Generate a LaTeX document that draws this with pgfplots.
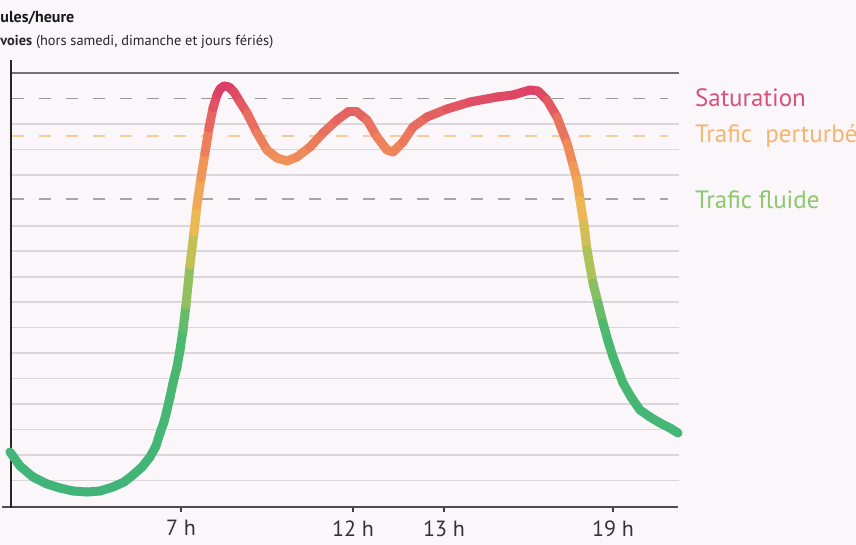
\documentclass[border=0pt]{standalone}
\usepackage{fontspec}
\setmainfont{PT Sans}
\usepackage{pgfplots}
\pgfplotsset{compat=1.18}
\usetikzlibrary{backgrounds}

\definecolor{bg}{RGB}{250,246,249}
\definecolor{satcol}{RGB}{214,82,122}
\definecolor{pertcol}{RGB}{243,182,112}
\definecolor{fluidcol}{RGB}{140,200,108}
\definecolor{gridcol}{RGB}{218,214,217}

\begin{document}
\begin{tikzpicture}
\begin{axis}[
    x=0.5pt, y=0.5pt,
    xmin=10, xmax=679, ymin=39, ymax=472,
    clip=false,
    axis line style={draw=none},
    xtick={181,353,444,613},
    xticklabels={7 h,12 h,13 h,19 h},
    xtick pos=bottom, ytick pos=left,
    tick align=outside,
    major tick length=3pt,
    xtick style={draw=black!75, line width=1pt},
    xticklabel style={font=\fontsize{11}{13}\selectfont, text=black!80, inner sep=0pt, yshift=-4pt},
    ytick={64.5,89.9,115.4,140.9,166.4,191.8,217.3,242.8,268.2,293.7,319.2,370.1,395.6,421.0},
    yticklabels={},
    ytick style={draw=none},
    ymajorgrids,
    grid style={gridcol, line width=0.8pt},
    colormap={traffic}{rgb255(0cm)=(60,178,125); rgb255(2.1cm)=(75,185,110); rgb255(2.8cm)=(175,195,90);
        rgb255(3.3cm)=(238,185,85); rgb255(3.85cm)=(240,145,88); rgb255(4.25cm)=(232,105,95); rgb255(4.6cm)=(218,58,104)},
    point meta min=0, point meta max=460,
]
% page frame in the reference's pixel frame
\coordinate (bl) at (axis cs:0,0);
\coordinate (tr) at (axis cs:856,545);

% reference levels
\draw[black!40, line width=0.9pt, dash pattern=on 6pt off 7.5pt] (axis cs:12,446.5) -- (axis cs:668,446.5);
\draw[pertcol!70, line width=0.9pt, dash pattern=on 6pt off 7.5pt] (axis cs:12,409) -- (axis cs:668,409);
\draw[black!35, line width=0.9pt, dash pattern=on 6pt off 7.5pt] (axis cs:12,346) -- (axis cs:668,346);

% frame lines
\draw[black!55, line width=1pt] (axis cs:12,472) -- (axis cs:679,472);
\draw[black!70, line width=1pt] (axis cs:2,38) -- (axis cs:678,38);
\draw[black!85, line width=1.25pt] (axis cs:11,37) -- (axis cs:11,485);

\addplot[mesh, point meta=y, line width=4.5pt, line cap=round, line join=round] coordinates {
    (10,93) (20,79) (33,68) (47,61) (60,57) (73,54) (87,53) (100,54)
    (113,58) (124,63) (133,70) (142,78) (150,88) (156,99) (160,112)
    (164,123) (167,135) (170,148) (173,162) (177,178) (180,195) (183,215)
    (186,240) (190,280) (194,313) (197,340) (201,367) (205,392) (209,417)
    (213,437) (217,450) (220,456) (224,459) (229,458) (234,453) (240,443)
    (247,432) (257,412) (267,395) (277,387) (287,384) (297,388) (310,398)
    (323,412) (337,425) (348,433) (357,433) (367,425) (377,408) (387,395)
    (393,393) (403,403) (413,418) (427,428) (447,436) (470,443) (497,448)
    (513,450) (530,455) (538,454) (547,445) (557,428) (567,402) (573,380)
    (577,365) (580,345) (584,320) (587,295) (593,262) (598,242) (603,222)
    (608,204) (613,188) (623,162) (631,148) (640,135) (650,128) (660,122)
    (670,117) (678,112)
};

% level labels
\node[anchor=west, text=satcol, font=\fontsize{12.5}{15}\selectfont] at (axis cs:688,447) {Saturation};
\node[anchor=west, text=pertcol, font=\fontsize{12.5}{15}\selectfont] at (axis cs:688,409) {Trafic\ \ perturbé};
\node[anchor=west, text=fluidcol, font=\fontsize{12.5}{15}\selectfont] at (axis cs:688,345) {Trafic fluide};

% title (cut at the left edge in the reference)
\node[anchor=west, inner sep=0pt, text=black!90, font=\bfseries\fontsize{8}{10}\selectfont] at (axis cs:0,527) {ules/heure};
\node[anchor=west, inner sep=0pt, text=black!85, font=\fontsize{7.2}{9}\selectfont] at (axis cs:0,503) {\textbf{voies} (hors samedi, dimanche et jours fériés)};
\end{axis}
\begin{scope}[on background layer]
\fill[bg] (bl) rectangle (tr);
\end{scope}
\pgfresetboundingbox
\path[use as bounding box] (bl) rectangle (tr);
\end{tikzpicture}
\end{document}
